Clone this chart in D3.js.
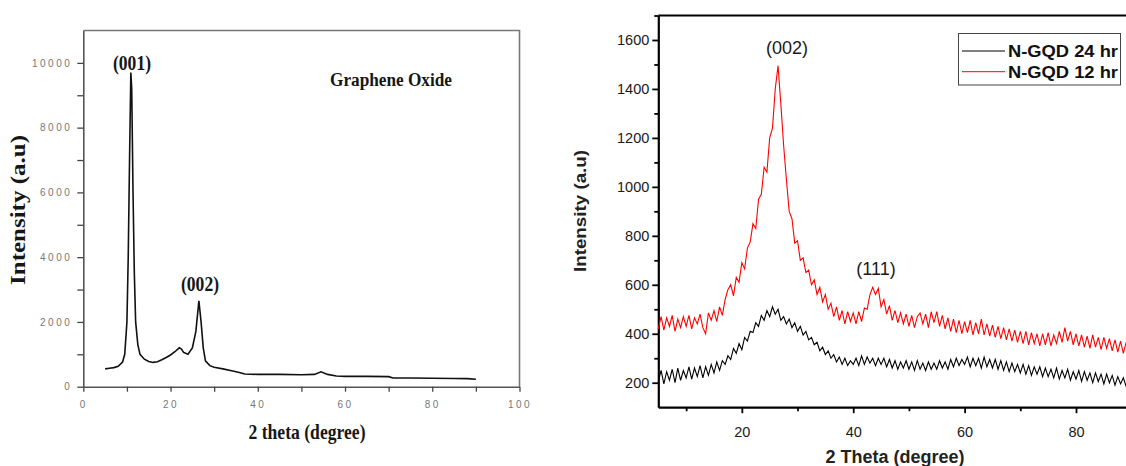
<!DOCTYPE html>
<html>
<head>
<meta charset="utf-8">
<title>XRD patterns</title>
<script src="https://cdn.jsdelivr.net/npm/d3@7"></script>
<style>
body { margin: 0; background: #fff; }
.go text { font-family: "Liberation Sans", Arial, sans-serif; }
.gqd text { font-family: Arial, "Liberation Sans", sans-serif; }
</style>
</head>
<body>
<script>
// ---- left panel : graphene oxide ----
var goAngle = [5, 6, 7, 8, 9, 9.5, 10, 10.3, 10.6, 10.9, 11.1, 11.4, 11.7, 12, 12.5, 13, 14, 15, 16, 17, 18, 19, 20, 21, 22, 22.5, 23, 24, 25, 25.8, 26.5, 27, 27.5, 28, 29, 30, 32, 34, 36, 37, 40, 45, 50, 53, 54.5, 56, 58, 60, 65, 70, 71, 75, 80, 85, 88, 90];
var goIntensity = [550, 570, 590, 630, 760, 1000, 2000, 4000, 7000, 9700, 9200, 6000, 3500, 2000, 1300, 1000, 850, 780, 750, 770, 830, 900, 980, 1080, 1200, 1160, 1060, 1000, 1200, 1700, 2650, 2000, 1200, 800, 650, 600, 550, 490, 430, 390, 380, 380, 370, 380, 460, 380, 330, 320, 320, 310, 270, 270, 260, 255, 250, 230];
var goTicksX = [0, 20, 40, 60, 80, 100];
var goTicksY = [0, 2000, 4000, 6000, 8000, 10000];

// ---- right panel : N-GQD, sampled every 0.5 degree from 5 to 90 ----
var gqdStart = 5, gqdStep = 0.5;
var gqd24 = [
  205,250,195,245,210,255,200,260,210,250,
  220,265,215,260,225,270,220,265,230,275,
  240,285,250,290,275,310,295,340,320,360,
  335,385,370,410,405,445,430,475,455,495,
  470,510,480,500,455,470,440,460,425,445,
  410,430,395,410,375,385,355,365,330,345,
  315,330,300,315,285,305,275,300,270,290,
  275,300,270,310,275,305,280,300,270,300,
  275,300,265,295,260,290,255,285,260,290,
  255,285,250,290,255,280,250,285,255,280,
  255,290,260,285,255,295,265,300,270,295,
  275,305,265,300,270,300,260,305,265,295,
  260,295,255,290,250,285,245,280,245,275,
  240,275,235,270,230,265,235,265,225,260,
  225,255,220,260,215,250,220,255,210,245,
  215,250,205,245,210,240,200,240,205,235,
  195,235,200,230,190,225,195,220,185,215,
  200];
var gqd12 = [
  420,470,415,465,430,475,410,460,425,470,
  430,475,420,465,440,480,425,400,485,455,
  495,450,510,475,540,580,600,555,630,610,
  690,665,750,775,850,830,950,970,1080,1060,
  1200,1240,1400,1495,1340,1170,1030,900,870,770,
  780,700,710,650,660,600,620,560,590,530,
  560,500,525,470,510,455,495,440,490,450,
  485,440,490,450,505,500,560,590,560,585,
  510,540,480,515,455,495,445,485,440,480,
  430,475,425,470,485,440,480,425,490,445,
  490,430,475,420,465,410,460,405,455,400,
  450,405,455,395,445,400,460,395,440,390,
  435,385,430,380,425,375,420,370,415,365,
  410,360,410,355,405,360,400,350,400,355,
  405,350,395,360,410,365,425,370,410,355,
  400,350,395,345,390,340,395,345,385,335,
  385,340,380,330,375,325,370,320,365,315,
  350];
var gqdTicksX = [20, 40, 60, 80];
var gqdTicksY = [200, 400, 600, 800, 1000, 1200, 1400, 1600];
var legendNames = ["N-GQD 24 hr", "N-GQD 12 hr"];
var legendColors = ["#000000", "#ff0000"];

var svg = d3.select("body").append("svg")
  .attr("width", 1126).attr("height", 466)
  .style("background", "white");

// ================= left panel =================
var gl = svg.append("g").attr("class", "go");
var x1 = d3.scaleLinear().domain([0, 100]).range([83.3, 519.5]);
var y1 = d3.scaleLinear().domain([0, 11000]).range([386.7, 30.5]);

// frame top + right
gl.append("path")
  .attr("d", "M" + x1(0) + "," + y1(11000) + "H" + x1(100) + "V" + y1(0))
  .attr("fill", "none").attr("stroke", "#777").attr("stroke-width", 1.6);

var ax1 = gl.append("g").attr("transform", "translate(0," + y1(0) + ")")
  .call(d3.axisBottom(x1).tickValues(d3.range(0, 101, 10)).tickSize(5).tickSizeOuter(0)
    .tickFormat(function(d){ return goTicksX.indexOf(d) >= 0 ? d : ""; }));
var ay1 = gl.append("g").attr("transform", "translate(" + x1(0) + ",0)")
  .call(d3.axisLeft(y1).tickValues(d3.range(0, 10001, 1000)).tickSize(6).tickSizeOuter(0)
    .tickFormat(function(d){ return goTicksY.indexOf(d) >= 0 ? d : ""; }));
[ax1, ay1].forEach(function(a){
  a.select(".domain").attr("stroke", "#555").attr("stroke-width", 1.6);
  a.selectAll(".tick line").attr("stroke", "#444").attr("stroke-width", 1.3);
  a.selectAll(".tick text").attr("fill", "#777").attr("font-size", 10)
    .style("letter-spacing", "2.5px");
});
ax1.selectAll(".tick text").attr("dy", "1.3em");
ay1.selectAll(".tick text").attr("x", -11);

var line1 = d3.line().x(function(d){ return x1(d[0]); }).y(function(d){ return y1(d[1]); });
gl.append("path")
  .datum(d3.zip(goAngle, goIntensity))
  .attr("d", line1).attr("fill", "none").attr("stroke", "#111").attr("stroke-width", 1.6);

function serif(g, txt, x, y, size, len) {
  return g.append("text").text(txt).attr("x", x).attr("y", y)
    .attr("text-anchor", "middle").attr("font-size", size).attr("font-weight", "bold")
    .attr("fill", "#161616").style("font-family", "'Liberation Serif', 'Times New Roman', serif")
    .attr("textLength", len).attr("lengthAdjust", "spacingAndGlyphs");
}
serif(gl, "(001)", 132, 70, 21, 38);
serif(gl, "(002)", 200, 291, 21, 38);
serif(gl, "Graphene Oxide", 391, 86, 18, 122);
serif(gl, "2 theta (degree)", 307, 439, 22, 117);
serif(gl, "Intensity (a.u)", 0, 0, 21, 150)
  .attr("transform", "translate(25,210) rotate(-90)");

// ================= right panel =================
var gr = svg.append("g").attr("class", "gqd");
var x2 = d3.scaleLinear().domain([5, 90]).range([658.3, 1131.7]);
var y2 = d3.scaleLinear().domain([100, 1700]).range([407.2, 15.5]);

gr.append("line").attr("x1", x2(5)).attr("x2", 1126)
  .attr("y1", y2(1700)).attr("y2", y2(1700))
  .attr("stroke", "#000").attr("stroke-width", 2);

var ax2 = gr.append("g").attr("transform", "translate(0," + y2(100) + ")")
  .call(d3.axisBottom(x2).tickValues(d3.range(10, 91, 10)).tickSize(6).tickSizeOuter(0)
    .tickFormat(function(d){ return gqdTicksX.indexOf(d) >= 0 ? d : ""; }));
var ay2 = gr.append("g").attr("transform", "translate(" + x2(5) + ",0)")
  .call(d3.axisLeft(y2).tickValues(d3.range(200, 1701, 100)).tickSize(6).tickSizeOuter(0)
    .tickFormat(function(d){ return gqdTicksY.indexOf(d) >= 0 ? d : ""; }));
[ax2, ay2].forEach(function(a){
  a.select(".domain").attr("stroke", "#000").attr("stroke-width", 2.2);
  a.selectAll(".tick line").attr("stroke", "#000").attr("stroke-width", 1.8);
  a.selectAll(".tick text").attr("fill", "#1a1a1a").attr("font-size", 14.5);
});
ax2.selectAll(".tick").filter(function(d){ return gqdTicksX.indexOf(d) < 0; })
  .select("line").attr("y2", 4);
ay2.selectAll(".tick").filter(function(d){ return gqdTicksY.indexOf(d) < 0; })
  .select("line").attr("x2", -4);
ax2.selectAll(".tick text").attr("dy", "1.45em");
ay2.selectAll(".tick text").attr("x", -9);

var line2 = d3.line()
  .x(function(d, i){ return x2(gqdStart + i * gqdStep); })
  .y(function(d){ return y2(d); });
gr.append("path").datum(gqd12).attr("d", line2)
  .attr("fill", "none").attr("stroke", "#ff0000").attr("stroke-width", 1.1);
gr.append("path").datum(gqd24).attr("d", line2)
  .attr("fill", "none").attr("stroke", "#000").attr("stroke-width", 1.1);

gr.append("text").text("(002)").attr("x", 787).attr("y", 54)
  .attr("text-anchor", "middle").attr("font-size", 18).attr("fill", "#1a1a1a");
gr.append("text").text("(111)").attr("x", 876).attr("y", 275)
  .attr("text-anchor", "middle").attr("font-size", 18).attr("fill", "#1a1a1a");
gr.append("text").text("Intensity (a.u)").attr("transform", "translate(586,211) rotate(-90)")
  .attr("text-anchor", "middle").attr("font-size", 16.5).attr("font-weight", "bold").attr("fill", "#222")
  .attr("textLength", 122).attr("lengthAdjust", "spacingAndGlyphs");
gr.append("text").text("2 Theta (degree)").attr("x", 895).attr("y", 463)
  .attr("text-anchor", "middle").attr("font-size", 17.5).attr("font-weight", "bold").attr("fill", "#222")
  .attr("textLength", 139).attr("lengthAdjust", "spacingAndGlyphs");

// legend
var lg = gr.append("g");
lg.append("rect").attr("x", 958.5).attr("y", 33.5).attr("width", 162).attr("height", 51.5)
  .attr("fill", "#fff").attr("stroke", "#444").attr("stroke-width", 1);
var items = lg.selectAll("g.item").data(legendNames).enter().append("g").attr("class", "item")
  .attr("transform", function(d, i){ return "translate(0," + (51 + i * 20.7) + ")"; });
items.append("line").attr("x1", 962).attr("x2", 1005).attr("y1", 0).attr("y2", 0)
  .attr("stroke", function(d, i){ return legendColors[i]; }).attr("stroke-width", 1);
items.append("text").text(function(d){ return d; }).attr("x", 1008).attr("y", 6)
  .attr("font-size", 17).attr("font-weight", "bold").attr("fill", "#111")
  .attr("textLength", 110).attr("lengthAdjust", "spacingAndGlyphs");
</script>
</body>
</html>
